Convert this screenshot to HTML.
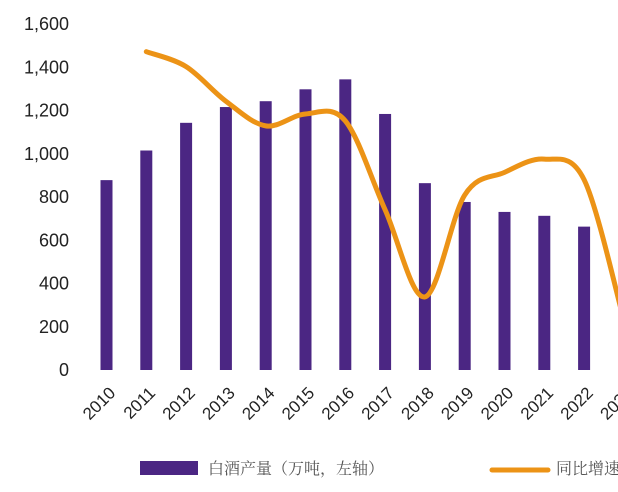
<!DOCTYPE html>
<html><head><meta charset="utf-8"><style>
body{margin:0;background:#fff;width:618px;height:492px;overflow:hidden}
svg{display:block}
.t{font-family:"Liberation Sans",sans-serif;font-size:18px;fill:#222}
.x{font-family:"Liberation Sans",sans-serif;font-size:17px;fill:#222}
.lg{font-family:"Liberation Serif","Noto Serif CJK SC",serif;font-size:16px;fill:#555}
</style></head><body>
<svg width="618" height="492">
<g id="yaxis"></g>
<g id="bars"></g>
<g id="xaxis"></g>
<path id="line" fill="none" stroke="#EC9316" stroke-width="5" stroke-linecap="round"/>
<g>
<rect x="140" y="461" width="58" height="14" fill="#4B2683"/>
<text x="208" y="474" class="lg">白酒产量（万吨，左轴）</text>
<line x1="492" y1="470" x2="548" y2="470" stroke="#EC9316" stroke-width="5" stroke-linecap="round"/>
<text x="556" y="474" class="lg">同比增速</text>
</g>
</svg>
<script>
const years=["2010","2011","2012","2013","2014","2015","2016","2017","2018","2019","2020","2021","2022","2023"];
const production=[878,1015,1143,1216,1243,1298,1344,1184,864,777,731,713,663,null];
const yoy=[null,1472,1403,1243,1129,1184,1152,741,338,809,914,975,880,230];
const yTicks=[0,200,400,600,800,1000,1200,1400,1600];
const NS="http://www.w3.org/2000/svg";
const y=v=>370-v/1600*346;
const x=i=>106.5+i*39.8;
function mk(t,a,p){const e=document.createElementNS(NS,t);for(const k in a)e.setAttribute(k,a[k]);p.appendChild(e);return e;}
const ya=document.getElementById('yaxis');
yTicks.forEach(v=>{const t=mk('text',{x:69,y:y(v)+6,'text-anchor':'end',class:'t'},ya);t.textContent=v.toLocaleString('en-US');

});
const bg=document.getElementById('bars');
production.forEach((v,i)=>{if(v==null)return;const r=mk('rect',{x:x(i)-6,y:y(v),width:12,height:y(0)-y(v),fill:'#4B2683'},bg);

});
const xa=document.getElementById('xaxis');
years.forEach((s,i)=>{const t=mk('text',{x:0,y:0,'text-anchor':'end',class:'x',transform:`translate(${x(i)+10},${394}) rotate(-45)`},xa);t.textContent=s;

});
const pts=[];yoy.forEach((v,i)=>{if(v!=null)pts.push([x(i),y(v)]);});
let d=`M${pts[0][0]},${pts[0][1]}`;
for(let i=0;i<pts.length-1;i++){const p0=pts[i-1]||pts[i],p1=pts[i],p2=pts[i+1],p3=pts[i+2]||p2;
d+=` C${p1[0]+(p2[0]-p0[0])/6},${p1[1]+(p2[1]-p0[1])/6} ${p2[0]-(p3[0]-p1[0])/6},${p2[1]-(p3[1]-p1[1])/6} ${p2[0]},${p2[1]}`;}
document.getElementById('line').setAttribute('d',d);
</script>
</body></html>
